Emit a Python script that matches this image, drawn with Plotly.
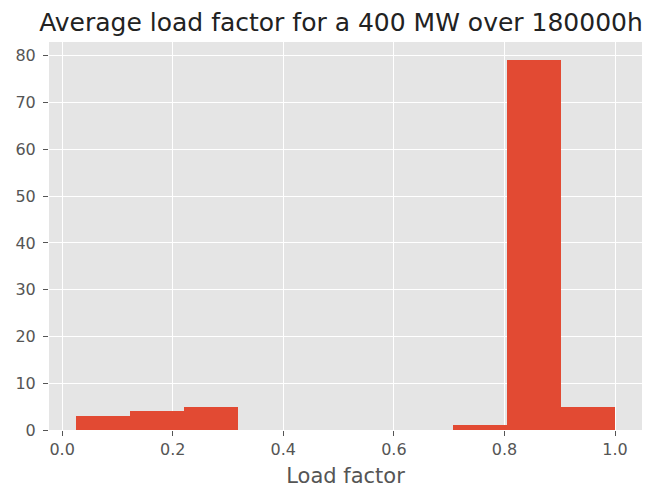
import plotly.graph_objects as go

# Histogram of average load factor (10 bins)
bin_edges = [0.025, 0.1225, 0.22, 0.3175, 0.415, 0.5125, 0.61, 0.7075, 0.805, 0.9025, 1.0]
counts = [3, 4, 5, 0, 0, 0, 0, 1, 79, 5]
x_ticks = [0.0, 0.2, 0.4, 0.6, 0.8, 1.0]
y_ticks = [0, 10, 20, 30, 40, 50, 60, 70, 80]

lefts = bin_edges[:-1]
widths = [b - a for a, b in zip(bin_edges[:-1], bin_edges[1:])]

fig = go.Figure(go.Bar(
    x=lefts, y=counts, width=widths, offset=0,
    marker=dict(color="#E24A33", line=dict(width=0)),
    hoverinfo="x+y",
))

span = bin_edges[-1] - bin_edges[0]
# page has an 8px body margin, so the figure is sized to fit the window
W, H = 647, 480
fig.update_layout(
    width=W, height=H,
    margin=dict(l=41, r=13, t=34, b=58),
    paper_bgcolor="white",
    plot_bgcolor="#E5E5E5",
    font=dict(family="DejaVu Sans", color="#555555"),
    title=dict(text="Average load factor for a 400 MW over 180000h",
               x=333 / W, xref="container", xanchor="center",
               y=1 - 14 / H, yref="container", yanchor="middle",
               font=dict(size=25, color="#222222")),
    showlegend=False,
    bargap=0,
)
fig.update_xaxes(
    range=[bin_edges[0] - 0.05 * span, bin_edges[-1] + 0.05 * span],
    tickvals=x_ticks, tickformat=".1f",
    ticks="outside", ticklen=5, tickcolor="#555555", tickwidth=1,
    showgrid=True, gridcolor="white", gridwidth=1.3,
    zeroline=False, showline=False, automargin=False,
    tickfont=dict(size=16, color="#555555"),
    title=dict(text="Load factor", font=dict(size=21, color="#555555"), standoff=11),
)
fig.update_yaxes(
    range=[0, max(counts) * 1.05],
    tickvals=y_ticks,
    ticks="outside", ticklen=5, tickcolor="#555555", tickwidth=1,
    ticklabelstandoff=4,
    showgrid=True, gridcolor="white", gridwidth=1.3,
    zeroline=False, showline=False, automargin=False,
    tickfont=dict(size=16, color="#555555"),
)

fig.write_html("out.html")
